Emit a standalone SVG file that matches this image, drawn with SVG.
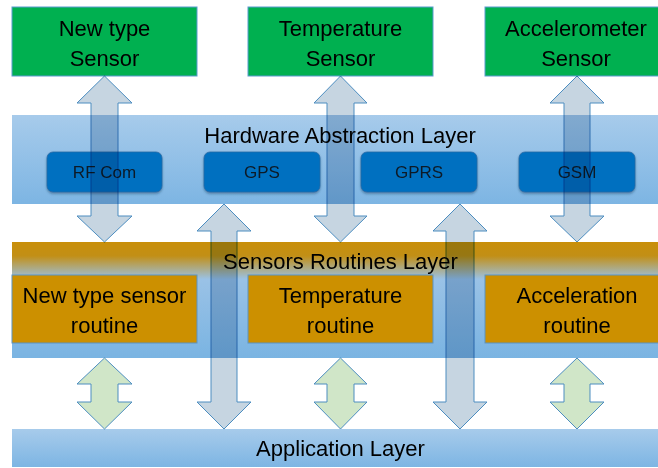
<svg xmlns="http://www.w3.org/2000/svg" width="658" height="468" viewBox="0 0 658 468">
<defs>
<linearGradient id="gBand" x1="0" y1="0" x2="0" y2="1">
<stop offset="0" stop-color="#a7cbeb"/>
<stop offset="1" stop-color="#7db5e3"/>
</linearGradient>
<linearGradient id="gSR" x1="0" y1="0" x2="0" y2="1">
<stop offset="0" stop-color="#c98f0a"/>
<stop offset="0.12" stop-color="#c28f16"/>
<stop offset="0.32" stop-color="#9ac2e6"/>
<stop offset="1" stop-color="#7ab4e2"/>
</linearGradient>
<filter id="sh" x="-10%" y="-20%" width="120%" height="150%">
<feDropShadow dx="0" dy="1.5" stdDeviation="1.2" flood-color="#1f3a5a" flood-opacity="0.45"/>
</filter>
</defs>
<style>
text{font-family:"Liberation Sans",Arial,sans-serif;fill:#000;text-anchor:middle}
.big{font-size:22px}
.sm{font-size:17px;fill:#0d1a26}
.band{stroke:none}
.sensor{fill:#00b050;stroke:#5a9bd0;stroke-width:1}
.routine{fill:#cc9000;stroke:#5b93c2;stroke-width:1}
.hw{fill:#0070c0;stroke:#2a6aa5;stroke-width:0.8;filter:url(#sh)}
.arr{fill:#c6d5e1;stroke:#4c8dc0;stroke-width:1;mix-blend-mode:multiply}
.garr{fill:#d0e6c8;stroke:#4c8dc0;stroke-width:1}
</style>

<g id="hal-layer">
<rect class="band" x="12" y="115" width="646" height="89" fill="url(#gBand)"/>
</g>
<g id="sensors-routines-layer">
<rect class="band" x="12" y="242" width="646" height="116" fill="url(#gSR)"/>
</g>
<g id="application-layer">
<rect class="band" x="12" y="429" width="646" height="38" fill="url(#gBand)"/>
</g>

<g id="new-type-sensor">
<rect class="sensor" x="12" y="7" width="185" height="69"/>
<text class="big" x="104.5" y="36">New type</text>
<text class="big" x="104.5" y="66">Sensor</text>
</g>
<g id="temperature-sensor">
<rect class="sensor" x="248" y="7" width="185" height="69"/>
<text class="big" x="340.5" y="36">Temperature</text>
<text class="big" x="340.5" y="66">Sensor</text>
</g>
<g id="accelerometer-sensor">
<rect class="sensor" x="485" y="7" width="180" height="69"/>
<text class="big" x="576" y="36">Accelerometer</text>
<text class="big" x="576" y="66">Sensor</text>
</g>

<g id="rf-com">
<rect class="hw" x="47" y="152" width="115" height="40" rx="6"/>
<text class="sm" x="104.5" y="178">RF Com</text>
</g>
<g id="gps">
<rect class="hw" x="204" y="152" width="116" height="40" rx="6"/>
<text class="sm" x="262" y="178">GPS</text>
</g>
<g id="gprs">
<rect class="hw" x="361" y="152" width="116" height="40" rx="6"/>
<text class="sm" x="419" y="178">GPRS</text>
</g>
<g id="gsm">
<rect class="hw" x="519" y="152" width="116" height="40" rx="6"/>
<text class="sm" x="577" y="178">GSM</text>
</g>

<g id="new-type-sensor-routine">
<rect class="routine" x="12" y="275" width="185" height="68"/>
<text class="big" x="104.5" y="303">New type sensor</text>
<text class="big" x="104.5" y="333">routine</text>
</g>
<g id="temperature-routine">
<rect class="routine" x="248" y="275" width="185" height="68"/>
<text class="big" x="340.5" y="303">Temperature</text>
<text class="big" x="340.5" y="333">routine</text>
</g>
<g id="acceleration-routine">
<rect class="routine" x="485" y="275" width="180" height="68"/>
<text class="big" x="577" y="303">Acceleration</text>
<text class="big" x="577" y="333">routine</text>
</g>

<g id="connectors">
<path class="arr" d="M104.5,76 L132,103 L118,103 L118,216 L132,216 L104.5,242 L77,216 L91,216 L91,103 L77,103 Z"/>
<path class="arr" d="M340.5,76 L367,103 L354,103 L354,216 L367,216 L340.5,242 L314,216 L327,216 L327,103 L314,103 Z"/>
<path class="arr" d="M577,76 L604,103 L590,103 L590,216 L604,216 L577,242 L550,216 L564,216 L564,103 L550,103 Z"/>
<path class="arr" d="M224,204 L251,231 L237,231 L237,402 L251,402 L224,429 L197,402 L211,402 L211,231 L197,231 Z"/>
<path class="arr" d="M460,204 L487,231 L474,231 L474,402 L487,402 L460,429 L433,402 L446,402 L446,231 L433,231 Z"/>
<path class="garr" d="M104.5,358 L132,384 L118,384 L118,402 L132,402 L104.5,429 L77,402 L91,402 L91,384 L77,384 Z"/>
<path class="garr" d="M340.5,358 L367,384 L354,384 L354,402 L367,402 L340.5,429 L314,402 L327,402 L327,384 L314,384 Z"/>
<path class="garr" d="M577,358 L604,384 L590,384 L590,402 L604,402 L577,429 L550,402 L564,402 L564,384 L550,384 Z"/>
</g>

<g id="layer-labels">
<text class="big" x="340" y="143">Hardware Abstraction Layer</text>
<text class="big" x="340.5" y="269">Sensors Routines Layer</text>
<text class="big" x="340.5" y="456">Application Layer</text>
</g>
</svg>
